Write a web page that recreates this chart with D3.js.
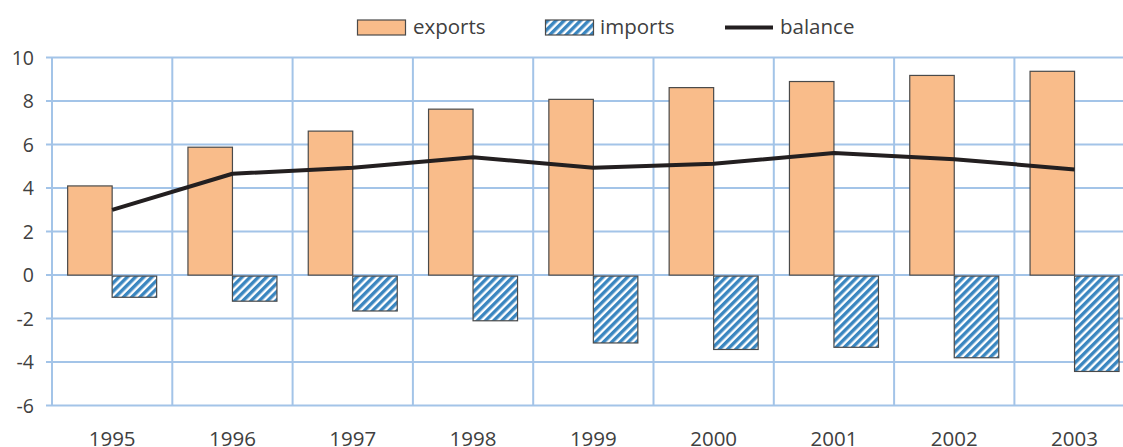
<!DOCTYPE html>
<html><head><meta charset="utf-8">
<script src="https://cdn.jsdelivr.net/npm/d3@7"></script>
<style>html,body{margin:0;padding:0;background:#fff;overflow:hidden}</style>
</head><body>
<svg id="c" width="1123" height="447"></svg>
<script>
const years = ["1995","1996","1997","1998","1999","2000","2001","2002","2003"];
const exportsVals = [4.1, 5.88, 6.62, 7.63, 8.08, 8.62, 8.9, 9.18, 9.37];
const importsVals = [-1.02, -1.2, -1.65, -2.1, -3.12, -3.42, -3.32, -3.8, -4.43];
const balanceVals = [3.0, 4.66, 4.94, 5.42, 4.94, 5.12, 5.61, 5.33, 4.86];
const yTicks = [-6, -4, -2, 0, 2, 4, 6, 8, 10];
const legendLabels = ["exports", "imports", "balance"];

const svg = d3.select("#c");
const font = "'Open Sans', sans-serif";
const txt = "#404040";
const grid = "#a3c4e8";

const x = d3.scaleBand().domain(years).range([52, 52 + 120.3 * 9]).paddingInner(0).paddingOuter(0);
const y = d3.scaleLinear().domain([-6, 10]).range([405.6, 57.6]);
const bw = 44.5;

const defs = svg.append("defs");
const pat = defs.append("pattern").attr("id","hatch").attr("patternUnits","userSpaceOnUse")
  .attr("width", 5.8).attr("height", 5.8).attr("patternTransform","rotate(45)");
pat.append("rect").attr("width",5.8).attr("height",5.8).attr("fill","#ffffff");
pat.append("rect").attr("x",0).attr("width",3.4).attr("height",5.8).attr("fill","#3a86c0");

// horizontal gridlines
svg.append("g").selectAll("line").data(yTicks).join("line")
  .attr("x1", 46).attr("x2", 1123).attr("y1", d => y(d)).attr("y2", d => y(d))
  .attr("stroke", grid).attr("stroke-width", 2);
// vertical gridlines
const vx = years.map(d => x(d)).concat([x(years[years.length-1]) + x.bandwidth()]);
svg.append("g").selectAll("line").data(vx).join("line")
  .attr("x1", d => d).attr("x2", d => d).attr("y1", y(10)).attr("y2", y(-6))
  .attr("stroke", grid).attr("stroke-width", 2);

// y labels
svg.append("g").selectAll("text").data(yTicks).join("text")
  .attr("x", 34).attr("y", d => y(d) + 7).attr("text-anchor","end")
  .attr("font-family", font).attr("font-size", 19.5).attr("fill", txt).text(d => d);

// x labels
svg.append("g").selectAll("text").data(years).join("text")
  .attr("x", d => x(d) + x.bandwidth()/2).attr("y", 446).attr("text-anchor","middle")
  .attr("font-family", font).attr("font-size", 20.5).attr("fill", txt).text(d => d);

// exports bars
svg.append("g").selectAll("rect").data(years).join("rect")
  .attr("x", d => x(d) + x.bandwidth()/2 - bw)
  .attr("y", (d,i) => y(exportsVals[i]))
  .attr("width", bw).attr("height", (d,i) => y(0) - y(exportsVals[i]))
  .attr("fill", "#f9bc8a").attr("stroke", "#4a4a4a").attr("stroke-width", 1.2);

// imports bars
svg.append("g").selectAll("rect").data(years).join("rect")
  .attr("x", d => x(d) + x.bandwidth()/2)
  .attr("y", y(0) + 1)
  .attr("width", bw).attr("height", (d,i) => y(importsVals[i]) - y(0) - 1)
  .attr("fill", "url(#hatch)").attr("stroke", "#4a4a4a").attr("stroke-width", 1.2);

// balance line
const line = d3.line().x((d,i) => x(years[i]) + x.bandwidth()/2).y(d => y(d));
svg.append("path").datum(balanceVals).attr("d", line)
  .attr("fill","none").attr("stroke","#231f20").attr("stroke-width", 4).attr("stroke-linejoin","round");

// legend
const lg = svg.append("g");
lg.append("rect").attr("x", 357.5).attr("y", 20).attr("width", 48).attr("height", 15)
  .attr("fill", "#f9bc8a").attr("stroke", "#4a4a4a").attr("stroke-width", 1.2);
lg.append("text").attr("x", 413).attr("y", 34).attr("font-family", font).attr("font-size", 20.5).attr("fill", txt).text(legendLabels[0]);
lg.append("rect").attr("x", 545.5).attr("y", 20).attr("width", 48).attr("height", 15)
  .attr("fill", "url(#hatch)").attr("stroke", "#4a4a4a").attr("stroke-width", 1.2);
lg.append("text").attr("x", 600).attr("y", 34).attr("font-family", font).attr("font-size", 20.5).attr("fill", txt).text(legendLabels[1]);
lg.append("line").attr("x1", 725).attr("x2", 773).attr("y1", 27.5).attr("y2", 27.5)
  .attr("stroke","#231f20").attr("stroke-width", 4);
lg.append("text").attr("x", 780).attr("y", 34).attr("font-family", font).attr("font-size", 20.5).attr("fill", txt).text(legendLabels[2]);
</script>
</body></html>
